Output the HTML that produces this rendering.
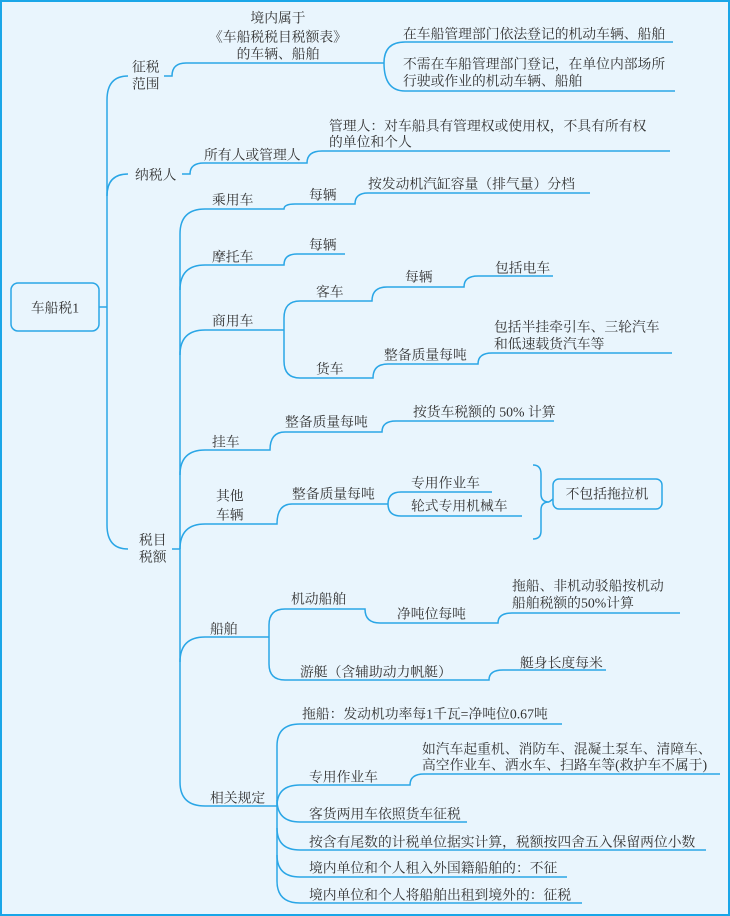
<!DOCTYPE html>
<html><head><meta charset="utf-8"><style>
html,body{margin:0;padding:0;width:730px;height:916px;overflow:hidden;background:#e9f5fd}
svg{display:block}
text{font-family:"Liberation Serif","Noto Serif CJK SC",serif;font-size:13.8px;fill:#333;dominant-baseline:central}
</style></head><body>
<svg width="730" height="916" viewBox="0 0 730 916" xmlns="http://www.w3.org/2000/svg">
<rect x="1" y="1" width="728" height="914" fill="#e9f5fd" stroke="#19a6e8" stroke-width="2"/>
<g fill="none" stroke="#2aa6e6" stroke-width="1.5">
<rect x="11" y="283" width="88" height="48" rx="7"/>
<path d="M99,307 L107,307"/>
<path d="M128,76 Q107,76 107,100 L107,525 Q107,549 128,549"/>
<path d="M107,196 Q107,174 128,174"/>
<path d="M164,76 L172,76 Q172,63 186,63 L384,63"/>
<path d="M673,42 L405,42 Q384,42 384,63 Q384,91 405,91 L675,91"/>
<path d="M182,174 L190,174 Q190,163 204,163 L307,163 Q307,151 322,151 L670,151"/>
<path d="M172,549 L180,549"/>
<path d="M205,209 Q180,209 180,234 L180,782 Q180,806 205,806 L277,806"/>
<path d="M205,209 L284,209 Q284,204 295,204 L355,204 Q355,193 368,193 L590,193"/>
<path d="M180,290 Q180,265 205,265 L284,265 Q284,254 297,254 L345,254"/>
<path d="M180,355 Q180,330 205,330 L284,330"/>
<path d="M300,301 Q284,301 284,318 L284,361 Q284,378 300,378"/>
<path d="M300,301 L372,301 Q372,287 387,287 L464,287 Q464,276 478,276 L553,276"/>
<path d="M300,378 L373,378 Q373,364 388,364 L478,364 Q478,353 492,353 L672,353"/>
<path d="M180,475 Q180,450 205,450 L270,450 Q270,432 285,432 L382,432 Q382,421 396,421 L554,421"/>
<path d="M180,549 Q180,524 205,524 L277,524 Q277,504 292,504 L388,504"/>
<path d="M492,492 L401,492 Q388,492 388,504 Q388,516 401,516 L522,516"/>
<path d="M533,465 Q541,465 541,474 L541,494 Q541,502 549,502 M549,502 Q541,502 541,510 L541,531 Q541,539 533,539"/>
<path d="M549,502 L553,499"/>
<rect x="553" y="479" width="109" height="30" rx="6"/>
<path d="M180,662 Q180,637 205,637 L269,637"/>
<path d="M285,609 Q269,609 269,625 L269,664 Q269,680 285,680"/>
<path d="M285,609 L365,609 Q365,623 380,623 L498,623 Q498,613 512,613 L680,613"/>
<path d="M285,680 L489,680 Q489,670 503,670 L606,670"/>
<path d="M300,724 Q277,724 277,746 L277,881 Q277,903 300,903 L582,903"/>
<path d="M300,724 L562,724"/>
<path d="M277,806 Q277,785 300,785 L410,785 Q410,774 424,774 L720,774"/>
<path d="M277,800 Q277,822 300,822 L467,822"/>
<path d="M277,828 Q277,850 300,850 L706,850"/>
<path d="M277,855 Q277,877 300,877 L567,877"/>
</g>
<text x="55" y="308" text-anchor="middle">车船税1</text>
<text x="278" y="18" text-anchor="middle">境内属于</text>
<text x="278" y="37" text-anchor="middle">《车船税税目税额表》</text>
<text x="278" y="54" text-anchor="middle">的车辆、船舶</text>
<text x="132" y="67">征税</text>
<text x="132" y="84">范围</text>
<text x="403" y="34">在车船管理部门依法登记的机动车辆、船舶</text>
<text x="403" y="64">不需在车船管理部门登记，在单位内部场所</text>
<text x="403" y="81">行驶或作业的机动车辆、船舶</text>
<text x="135" y="175">纳税人</text>
<text x="204" y="155">所有人或管理人</text>
<text x="329" y="126">管理人：对车船具有管理权或使用权，不具有所有权</text>
<text x="329" y="142">的单位和个人</text>
<text x="139" y="540">税目</text>
<text x="139" y="557">税额</text>
<text x="212" y="200">乘用车</text>
<text x="309" y="195">每辆</text>
<text x="368" y="184">按发动机汽缸容量（排气量）分档</text>
<text x="212" y="257">摩托车</text>
<text x="309" y="245">每辆</text>
<text x="212" y="321">商用车</text>
<text x="316" y="292">客车</text>
<text x="405" y="277">每辆</text>
<text x="495" y="268">包括电车</text>
<text x="316" y="369">货车</text>
<text x="384" y="355">整备质量每吨</text>
<text x="494" y="327">包括半挂牵引车、三轮汽车</text>
<text x="494" y="344">和低速载货汽车等</text>
<text x="212" y="442">挂车</text>
<text x="285" y="422">整备质量每吨</text>
<text x="413" y="412">按货车税额的 50% 计算</text>
<text x="216" y="496">其他</text>
<text x="216" y="515">车辆</text>
<text x="292" y="494">整备质量每吨</text>
<text x="411" y="483">专用作业车</text>
<text x="411" y="506">轮式专用机械车</text>
<text x="607" y="494" text-anchor="middle">不包括拖拉机</text>
<text x="210" y="629">船舶</text>
<text x="291" y="599">机动船舶</text>
<text x="397" y="614">净吨位每吨</text>
<text x="512" y="586">拖船、非机动驳船按机动</text>
<text x="512" y="603">船舶税额的50%计算</text>
<text x="300" y="672">游艇（含辅助动力帆艇）</text>
<text x="520" y="663">艇身长度每米</text>
<text x="210" y="798">相关规定</text>
<text x="302" y="714">拖船：发动机功率每1千瓦=净吨位0.67吨</text>
<text x="309" y="777">专用作业车</text>
<text x="422" y="749">如汽车起重机、消防车、混凝土泵车、清障车、</text>
<text x="422" y="765">高空作业车、洒水车、扫路车等(救护车不属于)</text>
<text x="309" y="814">客货两用车依照货车征税</text>
<text x="309" y="842">按含有尾数的计税单位据实计算，税额按四舍五入保留两位小数</text>
<text x="309" y="868">境内单位和个人租入外国籍船舶的：不征</text>
<text x="309" y="895">境内单位和个人将船舶出租到境外的：征税</text>
</svg>
</body></html>
